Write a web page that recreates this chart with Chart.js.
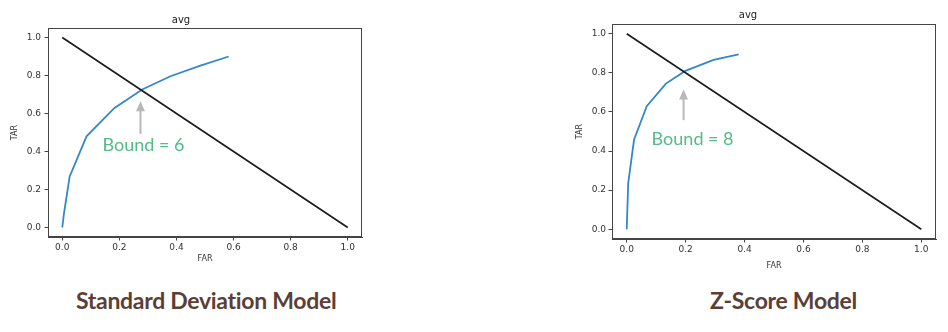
<!DOCTYPE html>
<html>
<head>
<meta charset="utf-8">
<script src="https://cdn.jsdelivr.net/npm/chart.js@4"></script>
<style>
  html, body { margin: 0; padding: 0; background: #fff; }
  body { width: 948px; height: 332px; position: relative; overflow: hidden; }
  .box { position: absolute; }
  .caption {
    position: absolute;
    font-family: Lato, sans-serif;
    font-weight: bold;
    font-size: 23px;
    letter-spacing: -0.3px;
    color: #5b3f37;
    white-space: nowrap;
  }
</style>
</head>
<body>
<div class="box" style="left:0;top:0;width:380px;height:270px"><canvas id="sdChart"></canvas></div>
<div class="box" style="left:560px;top:0;width:388px;height:275px"><canvas id="zChart"></canvas></div>
<div class="caption" style="left:76px;top:286px">Standard Deviation Model</div>
<div class="caption" style="left:710px;top:286px">Z-Score Model</div>

<script>
// Standard deviation model ROC points
const sdFar = [0, 0.006, 0.026, 0.085, 0.183, 0.28, 0.379, 0.484, 0.583];
const sdTar = [0, 0.075, 0.269, 0.48, 0.629, 0.726, 0.796, 0.852, 0.9];

// Z-score model ROC points
const zFar = [0, 0.005, 0.025, 0.068, 0.133, 0.199, 0.295, 0.38];
const zTar = [0, 0.236, 0.459, 0.63, 0.745, 0.81, 0.866, 0.895];

// equal error line
const diagFar = [0, 1];
const diagTar = [1, 0];

const tickValues = [0, 0.2, 0.4, 0.6, 0.8, 1.0];

// annotation: [x, tipY, tailY] in data units, then label
const sdArrow = [0.274, 0.664, 0.493];
const sdLabel = "Bound = 6";
const zArrow = [0.193, 0.715, 0.558];
const zLabel = "Bound = 8";

const toPoints = (xs, ys) => xs.map((x, i) => ({ x: x, y: ys[i] }));

// frame + arrow + label
const annotate = {
  id: "annotate",
  afterDatasetsDraw(chart, args, opts) {
    const { ctx, chartArea: a, scales } = chart;
    ctx.save();
    ctx.strokeStyle = "#444";
    ctx.lineWidth = 1;
    ctx.strokeRect(a.left + 0.5, a.top + 0.5, a.width - 1, a.height - 1);

    const ax = scales.x.getPixelForValue(opts.arrow[0]);
    const tip = scales.y.getPixelForValue(opts.arrow[1]);
    const tail = scales.y.getPixelForValue(opts.arrow[2]);
    ctx.strokeStyle = "#b8b8b8";
    ctx.fillStyle = "#b8b8b8";
    ctx.lineWidth = 2;
    ctx.beginPath();
    ctx.moveTo(ax, tail);
    ctx.lineTo(ax, tip + 8);
    ctx.stroke();
    ctx.beginPath();
    ctx.moveTo(ax, tip);
    ctx.lineTo(ax - 4.5, tip + 10);
    ctx.lineTo(ax + 4.5, tip + 10);
    ctx.closePath();
    ctx.fill();

    ctx.fillStyle = "#55bb88";
    ctx.font = "18px Lato";
    ctx.textAlign = "center";
    ctx.textBaseline = "middle";
    ctx.fillText(opts.label, ax + opts.dx, tail + opts.dy);
    ctx.restore();
  }
};

function makeChart(id, far, tar, cfg) {
  const tickFont = { family: "DejaVu Sans", size: 9 };
  const labelFont = { family: "DejaVu Sans", size: 8, lineHeight: 1.2 };
  return new Chart(document.getElementById(id), {
    type: "line",
    data: {
      datasets: [
        {
          data: toPoints(diagFar, diagTar),
          borderColor: "#1a1a1a",
          borderWidth: 1.6,
          pointRadius: 0,
          tension: 0
        },
        {
          data: toPoints(far, tar),
          borderColor: "#3388c8",
          borderWidth: 1.8,
          pointRadius: 0,
          tension: 0
        }
      ]
    },
    options: {
      responsive: true,
      maintainAspectRatio: false,
      animation: false,
      events: [],
      layout: { padding: { left: 0, top: 0, bottom: 0, right: cfg.right } },
      plugins: {
        legend: { display: false },
        tooltip: { enabled: false },
        title: {
          display: true,
          text: "avg",
          color: "#222",
          font: { family: "DejaVu Sans", size: 10, weight: "normal", lineHeight: 1 },
          padding: { top: cfg.titleTop, bottom: cfg.titleBottom }
        },
        annotate: { arrow: cfg.arrow, label: cfg.label, dx: cfg.labelDx, dy: cfg.labelDy }
      },
      scales: {
        x: {
          type: "linear",
          min: -0.05,
          max: 1.05,
          afterBuildTicks: s => { s.ticks = tickValues.map(v => ({ value: v })); },
          afterFit: s => { s.height = cfg.xHeight; },
          border: { color: "#444" },
          grid: { drawOnChartArea: false, tickLength: 3.5, color: "#444" },
          ticks: { color: "#333", font: tickFont, padding: 2, maxRotation: 0, callback: v => v.toFixed(1) },
          title: { display: true, text: "FAR", color: "#333", font: labelFont, padding: { top: 0, bottom: cfg.farBottom } }
        },
        y: {
          type: "linear",
          min: -0.05,
          max: 1.05,
          afterBuildTicks: s => { s.ticks = tickValues.map(v => ({ value: v })); },
          afterFit: s => { s.width = cfg.yWidth; },
          border: { color: "#444" },
          grid: { drawOnChartArea: false, tickLength: 3.5, color: "#444" },
          ticks: { color: "#333", font: tickFont, padding: cfg.yPad, callback: v => v.toFixed(1) },
          title: { display: true, text: "TAR", color: "#333", font: labelFont, padding: { top: cfg.tarTop, bottom: 0 } }
        }
      }
    },
    plugins: [annotate]
  });
}

makeChart("sdChart", sdFar, sdTar, {
  right: 18, titleTop: 15, titleBottom: 3, xHeight: 33, yWidth: 48, yPad: 3.5,
  farBottom: 6, tarTop: 10, arrow: sdArrow, label: sdLabel, labelDx: 3, labelDy: 11
});

makeChart("zChart", zFar, zTar, {
  right: 12, titleTop: 10, titleBottom: 4, xHeight: 36, yWidth: 52, yPad: 2.5,
  farBottom: 4.5, tarTop: 15, arrow: zArrow, label: zLabel, labelDx: 9, labelDy: 19
});
</script>
</body>
</html>
